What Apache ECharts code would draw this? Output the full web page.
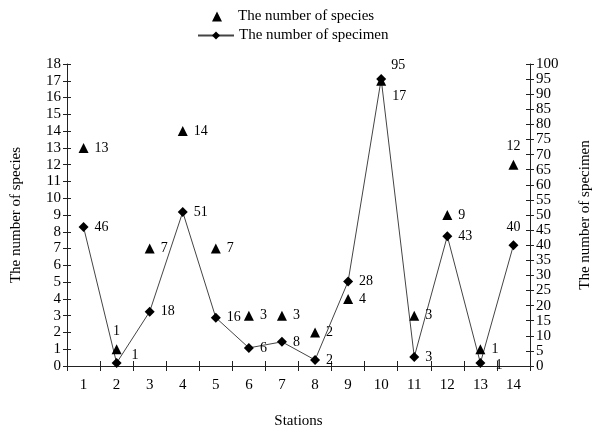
<!DOCTYPE html>
<html><head><meta charset="utf-8">
<script src="https://cdn.jsdelivr.net/npm/echarts@6/dist/echarts.min.js"></script>
<style>html,body{margin:0;padding:0;background:#fff}#c{width:595px;height:432px}</style>
</head><body><div id="c"></div>
<script>
const stations = ['1','2','3','4','5','6','7','8','9','10','11','12','13','14'];
const species = [13, 1, 7, 14, 7, 3, 3, 2, 4, 17, 3, 9, 1, 12];
const specimen = [46, 1, 18, 51, 16, 6, 8, 2, 28, 95, 3, 43, 1, 40];
const speciesLabelPos = ['right','top','right','right','right','right','right','right','right','right','right','right','right','top'];
const specimenLabelPos = ['right','right','right','right','right','right','right','right','right','top','right','right','right','top'];
const speciesLabelOffset = {9:[0,16]};
const specimenLabelOffset = {1:[4,-8], 9:[17,4], 12:[4,2]};

const font = 'Liberation Serif';
const chart = echarts.init(document.getElementById('c'));
const tickStyle = {color:'#222', width:1};
const triIcon = 'path://M0,0L0.01,0M26,10L25.99,10M10,0L15,10L5,10Z';
chart.setOption({
  animation:false,
  textStyle:{fontFamily:font, color:'#000'},
  legend:[
    {orient:'vertical', left:202, top:4, itemWidth:26, itemHeight:10,
     textStyle:{fontFamily:font, fontSize:15, color:'#000'},
     data:[{name:'The number of species', icon:triIcon}]},
    {orient:'vertical', left:192, top:23, itemWidth:36, itemHeight:10,
     textStyle:{fontFamily:font, fontSize:15, color:'#000'},
     data:['The number of specimen']}
  ],
  grid:{left:67, right:65, top:64, bottom:66, outerBoundsMode:'none', containLabel:false},
  xAxis:[
    {type:'category', data:stations, boundaryGap:true,
     name:'Stations', nameLocation:'middle', nameGap:48,
     nameTextStyle:{fontFamily:font, fontSize:15, color:'#000'},
     axisLine:{lineStyle:{color:'#222'}},
     axisTick:{show:true, length:5, lineStyle:tickStyle},
     axisLabel:{fontFamily:font, fontSize:15, color:'#000', margin:12}},
    {type:'category', data:stations, position:'bottom', boundaryGap:true,
     axisLine:{show:false}, axisLabel:{show:false},
     axisTick:{show:true, inside:true, length:5, lineStyle:tickStyle}}
  ],
  yAxis:[
    {type:'value', min:0, max:18, interval:1, position:'left',
     name:'The number of species', nameLocation:'middle', nameGap:43,
     nameTextStyle:{fontFamily:font, fontSize:15, color:'#000'},
     axisLine:{show:true, lineStyle:{color:'#222'}},
     axisTick:{show:true, length:4, lineStyle:tickStyle},
     splitLine:{show:false},
     axisLabel:{fontFamily:font, fontSize:15, color:'#000', margin:6, hideOverlap:false}},
    {type:'value', min:0, max:100, interval:5, position:'right',
     name:'The number of specimen', nameLocation:'middle', nameGap:48, nameRotate:90,
     nameTextStyle:{fontFamily:font, fontSize:15, color:'#000'},
     axisLine:{show:true, lineStyle:{color:'#222'}},
     axisTick:{show:true, length:4, lineStyle:tickStyle},
     splitLine:{show:false},
     axisLabel:{fontFamily:font, fontSize:15, color:'#000', margin:6, lineHeight:12, hideOverlap:false}},
    {type:'value', min:0, max:18, interval:1, position:'left', offset:0,
     axisLine:{show:false}, axisLabel:{show:false}, splitLine:{show:false},
     axisTick:{show:true, inside:true, length:4, lineStyle:tickStyle}},
    {type:'value', min:0, max:100, interval:5, position:'right', offset:0,
     axisLine:{show:false}, axisLabel:{show:false}, splitLine:{show:false},
     axisTick:{show:true, inside:true, length:4, lineStyle:tickStyle}}
  ],
  series:[
    {name:'The number of species', type:'scatter', yAxisIndex:0, symbol:'triangle', symbolSize:10,
     itemStyle:{color:'#000', opacity:1},
     data: species.map((v,i)=>({value:v, label:{position:speciesLabelPos[i], offset:speciesLabelOffset[i]||[0,0]}})),
     label:{show:true, fontFamily:font, fontSize:14, color:'#000', distance:6}, z:3},
    {name:'The number of specimen', type:'line', yAxisIndex:1, symbol:'diamond', symbolSize:10,
     itemStyle:{color:'#000'}, lineStyle:{color:'#444', width:1},
     data: specimen.map((v,i)=>({value:v, label:{position:specimenLabelPos[i], offset:specimenLabelOffset[i]||[0,0]}})),
     label:{show:true, fontFamily:font, fontSize:14, color:'#000', distance:6}, z:2}
  ]
});
</script></body></html>
